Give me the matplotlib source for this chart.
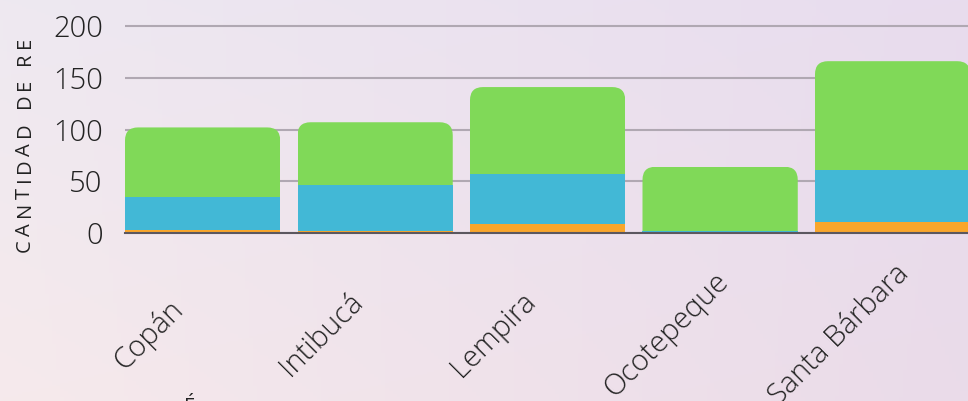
import matplotlib
matplotlib.use("Agg")
import matplotlib.pyplot as plt
import numpy as np
from matplotlib import font_manager as fm
from matplotlib import patheffects as pe
from matplotlib.ft2font import FT2Font
from matplotlib.patches import FancyBboxPatch
from matplotlib.transforms import ScaledTranslation, blended_transform_factory
from matplotlib.font_manager import FontProperties

# ---- data ----
categories = ["Copán", "Intibucá", "Lempira", "Ocotepeque", "Santa Bárbara"]
serie_naranja = [3, 2, 9, 0, 11]
serie_azul = [32, 44, 48, 2, 50]
serie_verde = [67, 61, 84, 62, 105]
y_ticks = [0, 50, 100, 150, 200]
y_label = "CANTIDAD DE RE"
x_title_fragment = "É"

# ---- styling ----
W, H, DPI = 968, 401, 100
C_ORANGE = "#f9a62b"
C_BLUE = "#42b8d6"
C_GREEN = "#80d958"
TXT = "#222222"


def find_font(name, weight):
    for f in fm.fontManager.ttflist:
        fn = f.fname.split("/")[-1].lower()
        if (f.name == name and f.weight == weight and f.style == "normal"
                and f.stretch == "normal" and "cond" not in fn):
            return f.fname
    return None


light_file = find_font("Open Sans", 300)
if light_file:
    tick_prop = FontProperties(fname=light_file, size=21)
    tick_fx = None
else:
    tick_prop = FontProperties(family="Open Sans", size=21)
    tick_fx = [pe.Normal(), pe.Stroke(linewidth=0.7, foreground="#f0e6ee")]

LAB_SIZE = 14.5
label_file = find_font("Open Sans", 500) or find_font("Open Sans", 400)
if label_file:
    lab_prop = FontProperties(fname=label_file, size=LAB_SIZE)
else:
    lab_prop = FontProperties(family="Open Sans", size=LAB_SIZE)
    label_file = fm.findfont(lab_prop)

fig = plt.figure(figsize=(W / DPI, H / DPI), dpi=DPI)


def hex2rgb(h):
    h = h.lstrip("#")
    return [int(h[i:i + 2], 16) / 255 for i in (0, 2, 4)]


grad = np.array([[hex2rgb("#eee9f1"), hex2rgb("#e8dcee")],
                 [hex2rgb("#f6eaec"), hex2rgb("#eadbe9")]])
bg = fig.add_axes([0, 0, 1, 1], zorder=-10)
bg.imshow(grad, extent=[-0.5, 1.5, -0.5, 1.5], aspect="auto",
          interpolation="bilinear", origin="upper")
bg.set_xlim(0, 1)
bg.set_ylim(0, 1)
bg.axis("off")

# axes geometry (pixels)
ax_left, ax_right, ax_bottom = 125, 968, 233
px_per_x = 172.5
px_per_y = 1.035
ymax = 205
ax_h = ymax * px_per_y
ax = fig.add_axes([ax_left / W, (H - ax_bottom) / H, (ax_right - ax_left) / W, ax_h / H])
ax.patch.set_visible(False)
bar_w = 0.9
ax.set_xlim(-bar_w / 2, -bar_w / 2 + (ax_right - ax_left) / px_per_x)
ax.set_ylim(0, ymax)

x = np.arange(len(categories))
ax.bar(x, serie_naranja, width=bar_w, color=C_ORANGE, zorder=3)
bottom2 = np.array(serie_naranja)
ax.bar(x, serie_azul, bottom=bottom2, width=bar_w, color=C_BLUE, zorder=3)
bottom3 = bottom2 + np.array(serie_azul)
greens = ax.bar(x, serie_verde, bottom=bottom3, width=bar_w, color=C_GREEN, zorder=2)

# rounded top corners for the top segment
r_px = 13
rx = r_px / px_per_x
ry = r_px / px_per_y
for rect in greens:
    x0 = rect.get_x()
    w = rect.get_width()
    top = rect.get_y() + rect.get_height()
    clip = FancyBboxPatch((x0, -3 * ry), w, top + 3 * ry,
                          boxstyle=f"round,pad=0,rounding_size={rx}",
                          mutation_aspect=ry / rx, transform=ax.transData)
    rect.set_clip_path(clip)

# grid & spines
ax.set_axisbelow(True)
ax.yaxis.grid(True, color="#b0a8b2", lw=1.5, zorder=0.5)
for s in ("top", "right", "left"):
    ax.spines[s].set_visible(False)
ax.spines["bottom"].set_color("#5b575f")
ax.spines["bottom"].set_linewidth(1.5)
ax.spines["bottom"].set_zorder(4)

ax.set_yticks(y_ticks)
ax.set_yticklabels([str(v) for v in y_ticks])
for t in ax.get_yticklabels():
    t.set_fontproperties(tick_prop)
    t.set_color(TXT)
    if tick_fx:
        t.set_path_effects(tick_fx)
ax.tick_params(axis="y", length=0, pad=16)
ax.set_xticks([])

# x category labels (rotated, centred, shifted left)
trans = blended_transform_factory(ax.transData, ax.transAxes) + \
    ScaledTranslation(-54 / DPI, 0, fig.dpi_scale_trans)
for i, c in enumerate(categories):
    t = ax.text(x[i], (ax_bottom - 335) / ax_h, c, transform=trans, rotation=45,
                ha="center", va="center", rotation_mode="anchor",
                fontproperties=tick_prop, color=TXT, clip_on=False)
    if tick_fx:
        t.set_path_effects(tick_fx)

# letter-spaced y label, drawn character by character using glyph advances
ft = FT2Font(label_file, hinting_factor=1)
ft.set_size(LAB_SIZE, DPI)
adv, lsb, ink = [], [], []
for ch in y_label:
    g = ft.load_char(ord(ch))
    adv.append(g.linearHoriAdvance / 65536)
    lsb.append(g.horiBearingX / 64)
    ink.append(g.width / 64)

y_start, y_end, x_base = 252, 40, 30
natural = sum(adv[:-1]) + lsb[-1] + ink[-1] - lsb[0]
track = ((y_start - y_end) - natural) / (len(y_label) - 1)
pen = -lsb[0]
for i, ch in enumerate(y_label):
    if ch != " ":
        pos = pen + lsb[i]
        fig.text(x_base / W, (H - y_start + pos) / H, ch, rotation=90,
                 rotation_mode="anchor", ha="left", va="baseline",
                 fontproperties=lab_prop, color=TXT)
    pen += adv[i] + track

# fragment of x-axis title cut off at the bottom
fig.text(190 / W, (H - 397) / H, x_title_fragment, ha="center", va="top",
         fontproperties=lab_prop, color=TXT)

fig.savefig("out.png", dpi=DPI)
